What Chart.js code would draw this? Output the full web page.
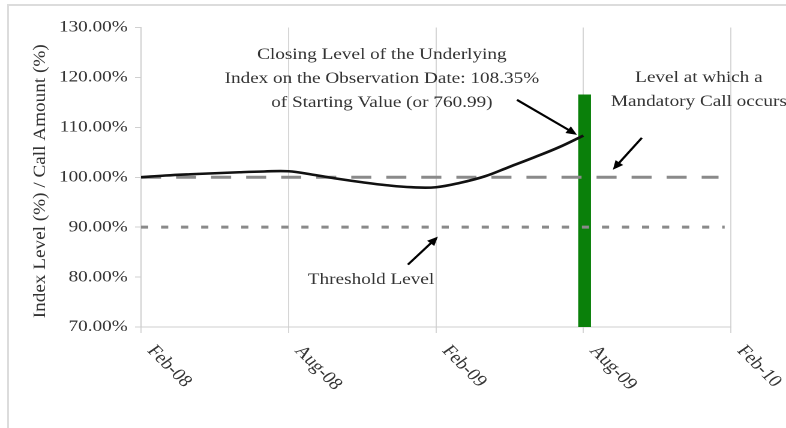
<!DOCTYPE html>
<html>
<head>
<meta charset="utf-8">
<script src="https://cdn.jsdelivr.net/npm/chart.js@4.4.1/dist/chart.umd.min.js"></script>
<style>
    html, body { margin: 0; padding: 0; background: #fff; }
    #page { position: relative; width: 786px; height: 428px; overflow: hidden; background: #fff; }
    #frame { position: absolute; left: 7px; top: 4px; width: 830px; height: 470px; border: 2px solid #dcdcdc; box-sizing: border-box; }
    /* the source picture is stretched sideways, so the chart is drawn narrower and widened */
    #wrap { position: absolute; left: 0; top: 0; width: 655px; height: 428px; transform: scaleX(1.2); transform-origin: 0 0; }
</style>
</head>
<body>
<div id="page">
    <div id="frame"></div>
    <div id="wrap"><canvas id="indexChart"></canvas></div>
</div>
<script>
// months counted from Feb-08
const months = [0, 1, 2, 3, 4, 5, 6, 7, 8, 9, 10, 11, 12, 13, 14, 15, 16, 17, 18];
const indexLevel = [100.0, 100.35, 100.6, 100.8, 101.0, 101.15, 101.2, 100.5, 99.7, 99.0, 98.4, 98.0, 98.0, 98.9, 100.2, 102.1, 104.0, 106.0, 108.35];

const xTickValues = [0, 6, 12, 18, 24];
const xTickLabels = ['Feb-08', 'Aug-08', 'Feb-09', 'Aug-09', 'Feb-10'];
const yTitle = 'Index Level (%) / Call Amount (%)';

const callLevel = 100;
const callLevelEnd = 23.5;
const thresholdLevel = 90;
const thresholdEnd = 23.75;

const observationMonth = 18.05;
const observationBar = [70, 116.5];

const notes = [
    { x: 9.8, y: 124.5, text: 'Closing Level of the Underlying' },
    { x: 9.8, y: 119.7, text: 'Index on the Observation Date: 108.35%' },
    { x: 9.8, y: 114.9, text: 'of Starting Value (or 760.99)' },
    { x: 22.7, y: 119.9, text: 'Level at which a' },
    { x: 22.7, y: 115.1, text: 'Mandatory Call occurs' },
    { x: 9.36, y: 79.5, text: 'Threshold Level' }
];

const arrows = [
    { from: [15.3, 115.5], to: [17.74, 108.5] },
    { from: [20.38, 107.9], to: [19.2, 101.5] },
    { from: [10.86, 82.5], to: [12.08, 88.1] }
];

const FONT = '"Liberation Serif", "Times New Roman", serif';
const TEXT = '#333';

function drawArrow(ctx, x1, y1, x2, y2) {
    const a = Math.atan2(y2 - y1, x2 - x1);
    const len = 9, w = 4;
    ctx.beginPath();
    ctx.moveTo(x1, y1);
    ctx.lineTo(x2 - len * 0.7 * Math.cos(a), y2 - len * 0.7 * Math.sin(a));
    ctx.stroke();
    ctx.beginPath();
    ctx.moveTo(x2, y2);
    ctx.lineTo(x2 - len * Math.cos(a) + w * Math.sin(a), y2 - len * Math.sin(a) - w * Math.cos(a));
    ctx.lineTo(x2 - len * Math.cos(a) - w * Math.sin(a), y2 - len * Math.sin(a) + w * Math.cos(a));
    ctx.closePath();
    ctx.fill();
}

const overlay = {
    id: 'overlay',
    afterDatasetsDraw(chart) {
        const { ctx, chartArea } = chart;
        const x = chart.scales.x, y = chart.scales.y;
        ctx.save();
        ctx.fillStyle = TEXT;
        ctx.textBaseline = 'middle';

        // axis title, stretched along its length like the rest of the picture
        ctx.save();
        ctx.font = '15px ' + FONT;
        ctx.translate(33.5, (chartArea.top + chartArea.bottom) / 2 + 4);
        ctx.rotate(-Math.PI / 2);
        ctx.scale(1.28, 1);
        ctx.textAlign = 'center';
        ctx.fillText(yTitle, 0, 0);
        ctx.restore();

        // slanted month labels (top-left to bottom-right)
        ctx.font = '17px ' + FONT;
        xTickValues.forEach((v, i) => {
            ctx.save();
            ctx.translate(x.getPixelForValue(v) + 8, chartArea.bottom + 21);
            ctx.rotate(50 * Math.PI / 180);
            ctx.textAlign = 'left';
            ctx.fillText(xTickLabels[i], 0, 0);
            ctx.restore();
        });

        ctx.font = '16px ' + FONT;
        ctx.textAlign = 'center';
        notes.forEach(n => ctx.fillText(n.text, x.getPixelForValue(n.x), y.getPixelForValue(n.y)));

        ctx.strokeStyle = '#000';
        ctx.fillStyle = '#000';
        ctx.lineWidth = 2;
        arrows.forEach(a => drawArrow(ctx,
            x.getPixelForValue(a.from[0]), y.getPixelForValue(a.from[1]),
            x.getPixelForValue(a.to[0]), y.getPixelForValue(a.to[1])));
        ctx.restore();
    }
};

new Chart(document.getElementById('indexChart'), {
    type: 'line',
    data: {
        datasets: [
            {
                label: 'Index Level',
                data: months.map((m, i) => ({ x: m, y: indexLevel[i] })),
                borderColor: '#111',
                borderWidth: 2.6,
                tension: 0.4,
                pointRadius: 0,
                order: 0
            },
            {
                label: 'Call Level',
                data: [{ x: 0, y: callLevel }, { x: callLevelEnd, y: callLevel }],
                borderColor: '#8a8a8a',
                borderWidth: 3,
                borderDash: [16.7, 12.5],
                pointRadius: 0,
                order: 1
            },
            {
                label: 'Threshold',
                data: [{ x: 0, y: thresholdLevel }, { x: thresholdEnd, y: thresholdLevel }],
                borderColor: '#8a8a8a',
                borderWidth: 3,
                borderDash: [6, 10.7],
                pointRadius: 0,
                order: 1
            },
            {
                type: 'bar',
                label: 'Observation Date',
                data: [{ x: observationMonth, y: observationBar }],
                backgroundColor: '#0a800a',
                barThickness: 10,
                grouped: false,
                order: 3
            }
        ]
    },
    options: {
        responsive: true,
        maintainAspectRatio: false,
        animation: false,
        devicePixelRatio: 2,
        layout: { padding: { left: 20, right: 46, top: 27.5, bottom: 0 } },
        plugins: { legend: { display: false }, tooltip: { enabled: false } },
        scales: {
            x: {
                type: 'linear',
                min: 0,
                max: 24,
                offset: false,
                ticks: { display: false, stepSize: 6 },
                grid: { color: '#d6d6d6', lineWidth: 1, offset: false, tickLength: 6 },
                border: { color: '#cfcfcf' },
                afterFit(s) { s.height = 101; }
            },
            y: {
                type: 'linear',
                min: 70,
                max: 130,
                ticks: {
                    stepSize: 10,
                    color: TEXT,
                    padding: 6,
                    font: { family: FONT, size: 16 },
                    callback: v => v.toFixed(2) + '%'
                },
                grid: { drawOnChartArea: false, tickLength: 5, color: '#d0d0d0' },
                border: { color: '#cfcfcf' },
                afterFit(s) { s.width = 97.5; }
            }
        }
    },
    plugins: [overlay]
});
</script>
</body>
</html>
